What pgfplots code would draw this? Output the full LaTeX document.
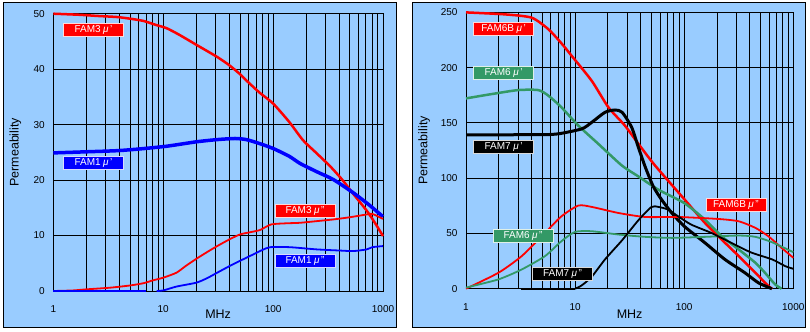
\documentclass[border=0pt]{standalone}
\usepackage{pgfplots}
\pgfplotsset{compat=1.18}
\usepackage{fontspec}
\setmainfont{Liberation Sans}
\definecolor{bgblue}{RGB}{153,204,255}
\definecolor{famgreen}{RGB}{51,153,102}
\definecolor{famred}{RGB}{255,0,0}
\definecolor{famblue}{RGB}{0,0,255}
\newcommand{\mup}{\hspace{2.5bp}\textit{μ}\hspace{1.5bp}\symbol{39}}
\newcommand{\mupp}{\hspace{2.5bp}\textit{μ}\hspace{1.5bp}\symbol{34}}
\tikzset{famlab/.style={fill=#1, draw=white!85!#1, line width=0.8bp, text=white, minimum width=60bp, minimum height=13bp, inner sep=0pt, font=\fontsize{10bp}{12bp}\selectfont}}
\begin{document}
\begin{tikzpicture}
\path[use as bounding box] (0bp,0bp) rectangle (810bp,332bp);
\draw[fill=bgblue, line width=1bp] (3bp,4.7bp) rectangle (396.5bp,329bp);
\draw[fill=bgblue, line width=1bp] (412.5bp,4.7bp) rectangle (805.5bp,329bp);

\begin{axis}[at={(53.3bp,41bp)}, anchor=south west,
  scale only axis, width=329.7bp, height=277.3bp,
  xmode=log, xmin=1, xmax=1000, ymin=0, ymax=50, ytick={0,10,20,30,40,50},
  grid=both,
  major grid style={black, line width=1bp},
  minor grid style={black, line width=1bp},
  axis line style={black, line width=1bp},
  major tick length=0pt, minor tick length=0pt,
  xtick={1,10,100,1000}, xticklabels={1,10,100,1000},
  minor xtick={2,3,4,5,6,7,8,9,20,30,40,50,60,70,80,90,200,300,400,500,600,700,800,900},
  tick label style={font=\fontsize{10bp}{12bp}\selectfont},
  xticklabel style={yshift=-11bp},
  yticklabel style={xshift=-5bp},
  /pgf/number format/assume math mode=true,
  xlabel={MHz}, ylabel={Permeability},
  label style={font=\fontsize{12.5bp}{14bp}\selectfont},
  clip=false,
  xlabel style={at={(axis description cs:0.5,-0.084)}, anchor=center},
  ylabel style={at={(axis description cs:-0.1153,0.5)}, anchor=center}]
% FAM3 mu'
\addplot[famred, line width=2.5bp, mark=none, smooth, tension=0.4] coordinates {
(1,50)(1.75,49.8)(2.5,49.6)(3.8,49.4)(5,49.1)(6.6,48.7)(8.5,48.0)(10.7,47.4)(14,46.2)(20,44.4)(31,42.2)(40,40.7)(50,39.1)(59,37.7)(75,35.8)(100,33.8)(140,30.5)(187,27.2)(250,24.8)(330,22.5)(420,20.2)(537,17.5)(710,14.5)(850,12.2)(1000,9.9)};
% FAM1 mu'
\addplot[famblue, line width=3.5bp, mark=none, smooth, tension=0.4] coordinates {
(1,24.9)(2,25.1)(3.8,25.3)(6,25.6)(10.7,26.1)(20,26.9)(31,27.3)(45,27.5)(57,27.3)(75,26.6)(100,25.7)(140,24.3)(176,23.0)(250,21.5)(353,20.1)(537,17.7)(750,15.5)(1000,13.4)};
% FAM3 mu''
\addplot[famred, line width=1.8bp, mark=none, smooth, tension=0.4] coordinates {
(1,0)(1.5,0.1)(2,0.3)(3.3,0.6)(5,1.0)(6.6,1.4)(8,1.9)(10,2.4)(13.2,3.3)(16,4.5)(20,5.8)(25,7.0)(31,8.1)(40,9.3)(50,10.2)(62,10.6)(76,11.0)(96,12.0)(130,12.2)(176,12.3)(250,12.6)(353,12.9)(500,13.3)(710,13.8)(800,13.9)(1000,13.0)};
% FAM1 mu''
\addplot[famblue, line width=1.8bp, mark=none] coordinates {(1,0)(7,0)};
\addplot[famblue, line width=1.8bp, mark=none, smooth, tension=0.4] coordinates {
(8.7,0)(10,0.1)(13.2,0.8)(20,1.5)(25,2.3)(31,3.3)(43,4.8)(66,6.6)(80,7.4)(94,7.9)(142,7.9)(250,7.5)(400,7.3)(537,7.2)(710,7.5)(800,7.9)(1000,8.1)};
\node[famlab=famred] at (axis cs:2.32,47) {FAM3\mup};
\node[famlab=famblue] at (axis cs:2.32,23.1) {FAM1\mup};
\node[famlab=famred] at (axis cs:195,14.4) {FAM3\mupp};
\node[famlab=famblue] at (axis cs:195,5.4) {FAM1\mupp};
\end{axis}

\begin{axis}[at={(466bp,43.3bp)}, anchor=south west,
  scale only axis, width=327.3bp, height=276.3bp,
  xmode=log, xmin=1, xmax=1000, ymin=0, ymax=250, ytick={0,50,100,150,200,250},
  grid=both,
  major grid style={black, line width=1bp},
  minor grid style={black, line width=1bp},
  axis line style={black, line width=1bp},
  major tick length=0pt, minor tick length=0pt,
  xtick={1,10,100,1000}, xticklabels={1,10,100,1000},
  minor xtick={2,3,4,5,6,7,8,9,20,30,40,50,60,70,80,90,200,300,400,500,600,700,800,900},
  tick label style={font=\fontsize{10bp}{12bp}\selectfont},
  xticklabel style={yshift=-11bp},
  yticklabel style={xshift=-5bp},
  /pgf/number format/assume math mode=true,
  xlabel={MHz}, ylabel={Permeability},
  label style={font=\fontsize{12.5bp}{14bp}\selectfont},
  clip=false,
  xlabel style={at={(axis description cs:0.5,-0.094)}, anchor=center},
  ylabel style={at={(axis description cs:-0.128,0.5)}, anchor=center}]
% FAM6B mu'
\addplot[famred, line width=2.5bp, mark=none, smooth, tension=0.4] coordinates {
(1,250)(2.28,248.2)(4,245.2)(5.7,234.7)(7.5,222)(9.3,210.7)(14.2,188.1)(20.2,164.1)(28.6,147.6)(38,131.1)(54,111.5)(101,80.6)(155,59.5)(205,47.5)(316,29.5)(450,14.4)(590,2.4)(640,0)};
% FAM6 mu'
\addplot[famgreen, line width=2.5bp, mark=none, smooth, tension=0.4] coordinates {
(1,172.2)(1.72,176.1)(3,179.7)(4.6,179.7)(5.7,174.6)(7.5,164.1)(10.7,147.6)(16.3,131.1)(26.8,111.5)(38,101.6)(58,89.6)(100,77.5)(155,62.5)(220,47.5)(316,35.5)(450,23.4)(550,14.4)(680,4.0)(780,0)};
% FAM7 mu'
\addplot[black, line width=3bp, mark=none, smooth, tension=0.4] coordinates {
(1,139.2)(4.9,139.4)(7,140.1)(11.5,144.6)(14.2,150.5)(18.8,159.6)(23.2,161.7)(27,159.6)(33,146)(38,128)(44,110)(52,92.6)(62,80.6)(77,68.5)(100,56.5)(155,41.5)(236,26.5)(360,14.4)(478,5.4)(635,0)};
% FAM6B mu''
\addplot[famred, line width=1.8bp, mark=none, smooth, tension=0.4] coordinates {
(1,0)(1.98,14.4)(3.24,29.5)(5.3,50.5)(7.5,65.5)(10.7,75.2)(14.2,74)(25,68.5)(44,64.9)(88,64.9)(205,63.1)(316,61)(450,55)(590,47.5)(780,37)(1000,28)};
% FAM6 mu''
\addplot[famgreen, line width=1.8bp, mark=none, smooth, tension=0.4] coordinates {
(1,1)(1.98,8.4)(3.24,17.4)(5.3,29.5)(7.5,43)(10,51.4)(14.2,52)(25,49)(44,46.9)(77,46)(155,46.9)(316,48.1)(450,46.9)(640,42)(1000,33)};
% FAM7 mu''
\addplot[black, line width=1.8bp, mark=none] coordinates {(3.2,0)(10,0)};
\addplot[black, line width=1.8bp, mark=none, smooth, tension=0.4] coordinates {
(10,0)(11.5,3)(14.2,10.8)(18.8,26.5)(27,43.9)(38,61.9)(50,73.9)(58,74)(71,71.6)(88,65.5)(116,58)(177,50.5)(270,41.5)(410,32.8)(640,26.5)(840,20.5)(1000,18)};
\node[famlab=famred] at (axis cs:2.21,235) {FAM6B\mup};
\node[famlab=famgreen] at (axis cs:2.21,195.3) {FAM6\mup};
\node[famlab=black] at (axis cs:2.21,128) {FAM7\mup};
\node[famlab=famred] at (axis cs:298,75.4) {FAM6B\mupp};
\node[famlab=famgreen] at (axis cs:3.33,47.8) {FAM6\mupp};
\node[famlab=black] at (axis cs:7.67,13.7) {FAM7\mupp};
\end{axis}
\end{tikzpicture}
\end{document}
